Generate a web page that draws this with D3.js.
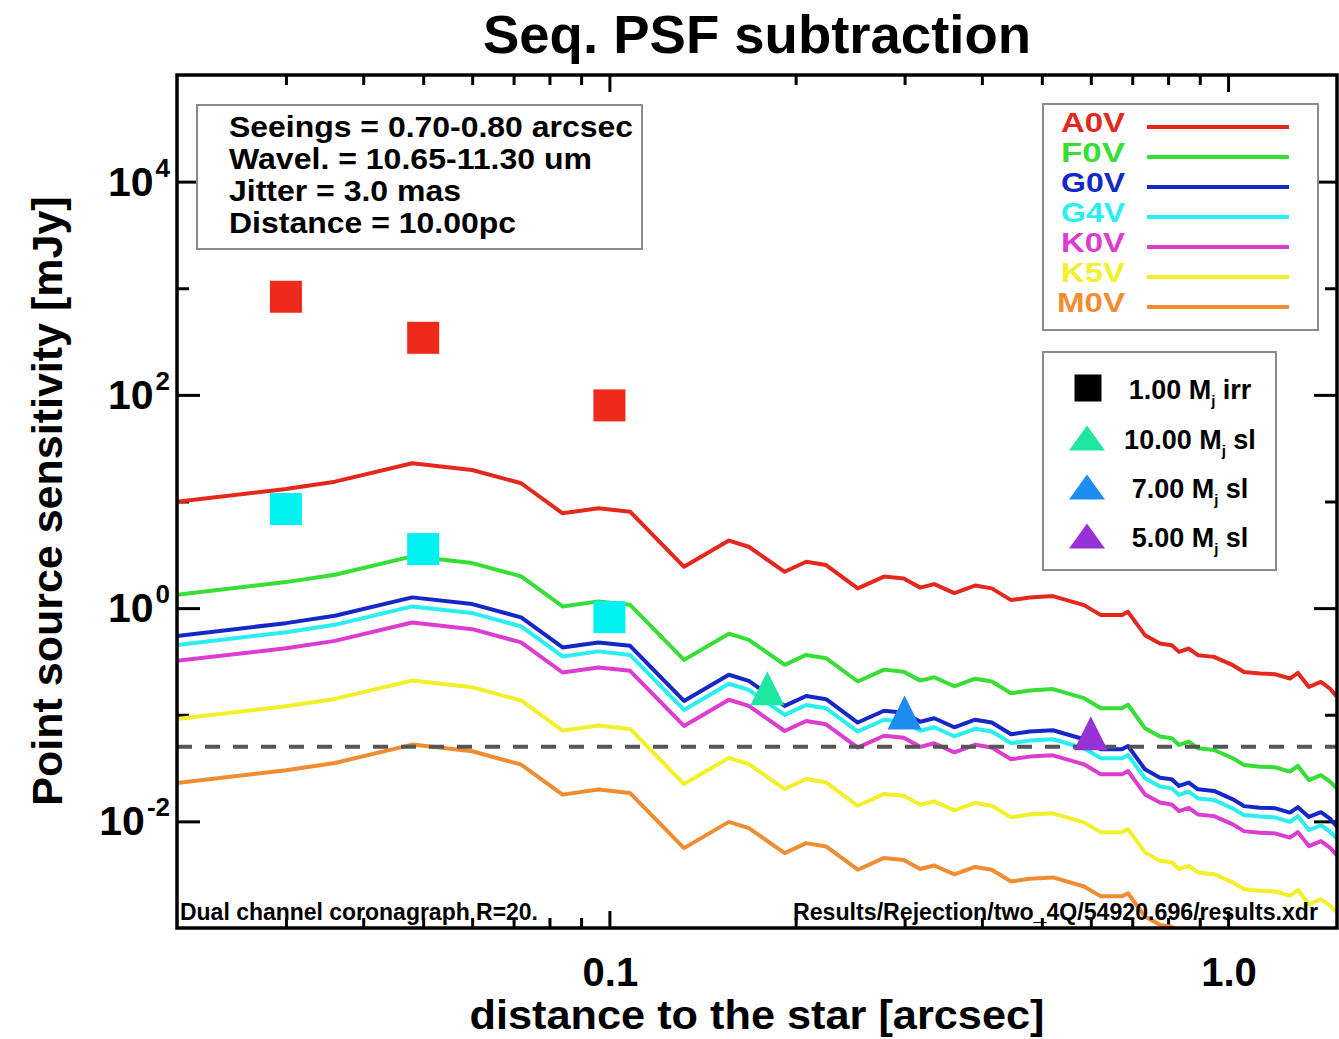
<!DOCTYPE html>
<html><head><meta charset="utf-8">
<script src="https://cdn.jsdelivr.net/npm/d3@7"></script>
<style>
body{margin:0;background:#fff}
svg{display:block}
text{font-family:"Liberation Sans",Arial,Helvetica,sans-serif;font-weight:bold}
</style>
</head><body>
<svg id="chart" width="1339" height="1039"></svg>
<script>
// ---------------- data ----------------
const distances = [0.020,0.030,0.036,0.048,0.060,0.072,0.084,0.096,0.108,0.132,0.156,0.168,0.192,0.208,0.224,0.252,0.278,0.299,0.318,0.335,0.361,0.390,0.415,0.446,0.478,0.521,0.585,0.623,0.674,0.689,0.734,0.776,0.811,0.833,0.864,0.894,0.949,1.018,1.061,1.126,1.190,1.259,1.297,1.351,1.413,1.461,1.500];

const a0v = [9.95,13.1,15.35,22.84,19.76,14.83,7.75,8.64,8.02,2.442,4.30,3.764,2.192,2.72,2.533,1.531,1.976,1.892,1.557,1.680,1.383,1.627,1.531,1.189,1.260,1.296,1.067,0.860,0.860,0.923,0.558,0.466,0.449,0.389,0.418,0.362,0.349,0.2916,0.2522,0.2436,0.2401,0.2187,0.2469,0.1824,0.2032,0.1762,0.1470];
const f0v = [1.333,1.754,2.056,3.059,2.646,1.986,1.038,1.157,1.074,0.327,0.576,0.504,0.294,0.364,0.339,0.205,0.265,0.253,0.209,0.225,0.185,0.218,0.205,0.159,0.169,0.174,0.143,0.115,0.115,0.124,0.0747,0.0624,0.0601,0.0521,0.0560,0.0485,0.0467,0.0391,0.0338,0.0326,0.0322,0.0293,0.0331,0.0244,0.0272,0.0236,0.0204];
const g0v = [0.549,0.723,0.847,1.261,1.091,0.818,0.428,0.477,0.443,0.1348,0.2373,0.2077,0.1210,0.1501,0.1398,0.0845,0.1091,0.1044,0.0859,0.0927,0.0763,0.0898,0.0845,0.0656,0.0695,0.0715,0.0589,0.0475,0.0475,0.0509,0.0308,0.0257,0.0248,0.0215,0.0231,0.0200,0.0193,0.0161,0.0139,0.0134,0.0133,0.0121,0.0136,0.0110,0.0122,0.0106,0.0089];
const g4v = [0.452,0.595,0.697,1.038,0.898,0.674,0.352,0.393,0.364,0.1109,0.1954,0.1710,0.0996,0.1236,0.1151,0.0696,0.0898,0.0860,0.0707,0.0763,0.0628,0.0739,0.0696,0.0540,0.0572,0.0589,0.0485,0.0391,0.0391,0.0419,0.0254,0.0212,0.0204,0.0177,0.0190,0.0164,0.0159,0.0132,0.0115,0.0111,0.0109,0.0099,0.0112,0.0083,0.0092,0.0080,0.0069];
const k0v = [0.320,0.421,0.493,0.734,0.635,0.477,0.249,0.278,0.258,0.0785,0.1382,0.1210,0.0704,0.0874,0.0814,0.0492,0.0635,0.0608,0.0500,0.0540,0.0444,0.0523,0.0492,0.0382,0.0405,0.0416,0.0343,0.0276,0.0276,0.0297,0.0179,0.0150,0.0144,0.0125,0.0134,0.0116,0.0112,0.00937,0.00810,0.00783,0.00772,0.00703,0.00793,0.00586,0.00653,0.00566,0.00480];
const k5v = [0.0913,0.1202,0.1408,0.2095,0.1813,0.1361,0.0711,0.0793,0.0736,0.0224,0.0394,0.0345,0.0201,0.0250,0.0232,0.0140,0.0181,0.0174,0.0143,0.0154,0.0127,0.0149,0.0140,0.0109,0.0116,0.0119,0.00979,0.00789,0.00789,0.00847,0.00512,0.00428,0.00412,0.00357,0.00383,0.00332,0.00320,0.00268,0.00231,0.00223,0.00220,0.00201,0.00227,0.00167,0.00186,0.00162,0.00140];
const m0v = [0.02287,0.03011,0.03529,0.05251,0.04543,0.03409,0.01782,0.01986,0.01844,0.00561,0.00989,0.00865,0.00504,0.00625,0.00582,0.00352,0.00454,0.00435,0.00358,0.00386,0.00318,0.00374,0.00352,0.00273,0.00290,0.00298,0.00245,0.00198,0.00198,0.00212,0.00128,0.00107,0.00103,0.000894,0.000961,0.000832,0.000802,0.000670,0.000580,0.000560,0.000552,0.000503,0.000568,0.000419,0.000467,0.000405,0.000338];

const starTypes = ["A0V","F0V","G0V","G4V","K0V","K5V","M0V"];
const starColors = ["#e4281e","#36de36","#1428c8","#2aeef0","#dc3ccf","#f2f02a","#f08c32"];
const starValues = [a0v,f0v,g0v,g4v,k0v,k5v,m0v];

// irradiated planet points (squares)
const irrDistances = [0.03,0.05,0.1];
const irrRed = [832,343,79.7];
const irrCyan = [8.50,3.58,0.823];

// self-luminous planet points (triangles)
const slDistances = [0.18,0.30,0.60];
const slValues = [0.177,0.105,0.067];
const slColors = ["#1ee8a0","#1e8cf0","#9632d6"];

const markerLegendLabels = [["1.00 M","j"," irr"],["10.00 M","j"," sl"],["7.00 M","j"," sl"],["5.00 M","j"," sl"]];
const limitLevel = 0.05;

const infoLines = ["Seeings = 0.70-0.80 arcsec","Wavel. = 10.65-11.30 um","Jitter = 3.0 mas","Distance = 10.00pc"];
const xTickMajor = [0.1,1.0];
const xTickLabels = ["0.1","1.0"];
const xTickMinor = [0.03,0.04,0.05,0.06,0.07,0.08,0.09,0.2,0.3,0.4,0.5,0.6,0.7,0.8,0.9];
const yTickMajorExp = [-2,0,2,4];
const yTickMinorExp = [-1,1,3];

// ---------------- layout ----------------
const L = 177, R = 1337, T = 75, B = 928;
const svg = d3.select("#chart");
const x = d3.scaleLog().domain([0.02,1.5]).range([L,R]);
const y = d3.scaleLog().domain([1e-3,1e5]).range([B,T]);

svg.append("defs").append("clipPath").attr("id","plotclip")
  .append("rect").attr("x",L).attr("y",T).attr("width",R-L).attr("height",B-T);

// title
svg.append("text").attr("x",(L+R)/2).attr("y",53).attr("text-anchor","middle")
  .attr("font-size",54.5).text("Seq. PSF subtraction");

// axes ticks
function ticks(axisGen, tr, vals, size){
  const g = svg.append("g").attr("transform",tr)
    .call(axisGen.tickValues(vals).tickSizeInner(size).tickSizeOuter(0).tickFormat(""));
  g.select(".domain").remove();
  g.selectAll("line").attr("stroke","#000").attr("stroke-width",3);
  return g;
}
ticks(d3.axisBottom(x), `translate(0,${B})`, xTickMajor, -17);
ticks(d3.axisBottom(x), `translate(0,${B})`, xTickMinor, -10);
ticks(d3.axisTop(x), `translate(0,${T})`, xTickMajor, -17);
ticks(d3.axisTop(x), `translate(0,${T})`, xTickMinor, -10);
ticks(d3.axisLeft(y), `translate(${L},0)`, yTickMajorExp.map(e=>Math.pow(10,e)), -23);
ticks(d3.axisLeft(y), `translate(${L},0)`, yTickMinorExp.map(e=>Math.pow(10,e)), -12);
ticks(d3.axisRight(y), `translate(${R},0)`, yTickMajorExp.map(e=>Math.pow(10,e)), -23);
ticks(d3.axisRight(y), `translate(${R},0)`, yTickMinorExp.map(e=>Math.pow(10,e)), -12);

// x tick labels
svg.append("g").selectAll("text").data(xTickMajor).join("text")
  .attr("x",d=>x(d)+1).attr("y",986).attr("text-anchor","middle").attr("font-size",40)
  .text((d,i)=>xTickLabels[i]);

// y tick labels
yTickMajorExp.forEach(e=>{
  const t = svg.append("text").attr("x",170).attr("y",y(Math.pow(10,e))+14)
    .attr("text-anchor","end").attr("font-size",41);
  t.append("tspan").text("10");
  t.append("tspan").attr("font-size",26).attr("dx",2).attr("dy",-19).text(String(e));
});

// axis titles
svg.append("text").attr("x",(L+R)/2).attr("y",1029).attr("text-anchor","middle")
  .attr("font-size",41).attr("textLength",575).attr("lengthAdjust","spacingAndGlyphs")
  .text("distance to the star [arcsec]");
svg.append("text").attr("transform","translate(62,501) rotate(-90)").attr("text-anchor","middle")
  .attr("font-size",43).text("Point source sensitivity [mJy]");

// curves
const line = d3.line().x((d,i)=>x(distances[i])).y(d=>y(d));
const curves = svg.append("g").attr("clip-path","url(#plotclip)");
starValues.forEach((vals,k)=>{
  curves.append("path").attr("d",line(vals)).attr("fill","none")
    .attr("stroke",starColors[k]).attr("stroke-width",4).attr("stroke-linejoin","round");
});

// detection limit (dashed)
curves.append("line").attr("x1",L).attr("x2",R).attr("y1",y(limitLevel)).attr("y2",y(limitLevel))
  .attr("stroke","#555").attr("stroke-width",4).attr("stroke-dasharray","15,13");

// squares
const sq = 32;
svg.append("g").selectAll("rect").data(irrRed).join("rect")
  .attr("x",(d,i)=>x(irrDistances[i])-sq/2).attr("y",d=>y(d)-sq/2)
  .attr("width",sq).attr("height",sq).attr("fill","#ee2a1a");
svg.append("g").selectAll("rect").data(irrCyan).join("rect")
  .attr("x",(d,i)=>x(irrDistances[i])-sq/2).attr("y",d=>y(d)-sq/2)
  .attr("width",sq).attr("height",sq).attr("fill","#00f2f2");

// triangles
function tri(cx,cy,w,h){return `M${cx-w/2},${cy+h/2}L${cx},${cy-h/2}L${cx+w/2},${cy+h/2}Z`;}
svg.append("g").selectAll("path").data(slValues).join("path")
  .attr("d",(d,i)=>tri(x(slDistances[i]),y(d),34,34)).attr("fill",(d,i)=>slColors[i]);

// frame
svg.append("rect").attr("x",L).attr("y",T).attr("width",R-L).attr("height",B-T)
  .attr("fill","none").attr("stroke","#000").attr("stroke-width",3.5);

// annotations
svg.append("text").attr("x",180).attr("y",920).attr("font-size",23)
  .attr("textLength",358).attr("lengthAdjust","spacingAndGlyphs")
  .text("Dual channel coronagraph R=20.");
svg.append("text").attr("x",1318).attr("y",920).attr("font-size",23).attr("text-anchor","end")
  .attr("textLength",525).attr("lengthAdjust","spacingAndGlyphs")
  .text("Results/Rejection/two_4Q/54920.696/results.xdr");

// info box
svg.append("rect").attr("x",197).attr("y",105).attr("width",445).attr("height",144)
  .attr("fill","#fff").attr("stroke","#8a8a8a").attr("stroke-width",2);
const infoWidths = [404,363,232,287];
svg.append("g").selectAll("text").data(infoLines).join("text")
  .attr("x",229).attr("y",(d,i)=>137+32*i).attr("font-size",30)
  .attr("textLength",(d,i)=>infoWidths[i]).attr("lengthAdjust","spacingAndGlyphs").text(d=>d);

// star legend
svg.append("rect").attr("x",1043).attr("y",104).attr("width",275).attr("height",226)
  .attr("fill","#fff").attr("stroke","#8a8a8a").attr("stroke-width",2);
const lg = svg.append("g");
starTypes.forEach((s,i)=>{
  lg.append("text").attr("x",1125).attr("y",132+30*i).attr("text-anchor","end")
    .attr("font-size",27).attr("textLength",s==="M0V"?68:64).attr("lengthAdjust","spacingAndGlyphs")
    .attr("fill",starColors[i]).text(s);
  lg.append("line").attr("x1",1147).attr("x2",1289).attr("y1",127+30*i).attr("y2",127+30*i)
    .attr("stroke",starColors[i]).attr("stroke-width",4);
});

// marker legend
svg.append("rect").attr("x",1043).attr("y",352).attr("width",233).attr("height",218)
  .attr("fill","#fff").attr("stroke","#8a8a8a").attr("stroke-width",2);
const rows = [388,438,487,536];
svg.append("rect").attr("x",1088-13.5).attr("y",rows[0]-13.5).attr("width",27).attr("height",27).attr("fill","#000");
slColors.forEach((c,i)=>{
  svg.append("path").attr("d",tri(1087,rows[i+1],36,25)).attr("fill",c);
});
markerLegendLabels.forEach((lab,i)=>{
  const t = svg.append("text").attr("x",1190).attr("y",rows[i]+11).attr("text-anchor","middle").attr("font-size",27);
  t.append("tspan").text(lab[0]);
  t.append("tspan").attr("font-size",15).attr("dy",7).text(lab[1]);
  t.append("tspan").attr("dy",-7).text(lab[2]);
});
</script>
</body></html>
